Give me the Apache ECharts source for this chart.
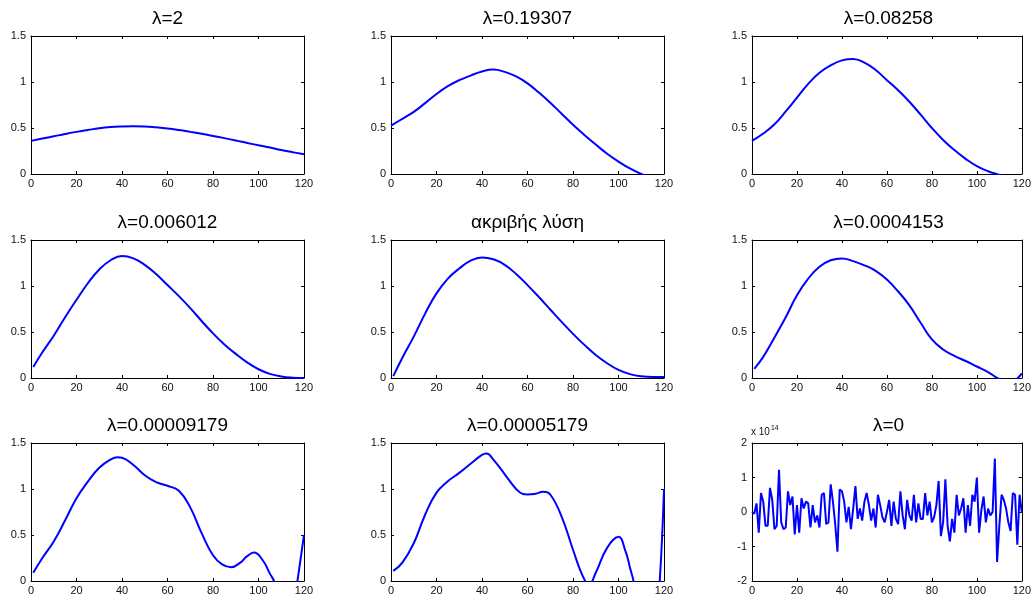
<!DOCTYPE html>
<html>
<head>
<meta charset="utf-8">
<script src="https://cdn.jsdelivr.net/npm/echarts@6/dist/echarts.min.js"></script>
<style>
html,body{margin:0;padding:0;background:#fff;}
#c{width:1034px;height:601px;}
</style>
</head>
<body>
<div id="c"></div>
<script>
// ---- data ----
const titles = ['λ=2','λ=0.19307','λ=0.08258','λ=0.006012','ακριβής λύση','λ=0.0004153','λ=0.00009179','λ=0.00005179','λ=0'];
const xTicks = [0,20,40,60,80,100,120];
const yTicks = [0,0.5,1,1.5];
const yTicksNoise = [-2,-1,0,1,2];

const xA = [0,5,10,15,20,25,30,35,40,45,50,55,60,65,70,75,80,85,90,95,100,105,110,115,120];
const xB = [1,5,10,15,20,25,30,35,40,45,50,55,60,65,70,75,80,85,90,95,100,105,110,115,120];
const xG = [1,5,10,15,20,25,30,35,38,40,45,50,55,60,65,70,75,80,84,88,92,95,98,102,105,107,110,115,117,120];
const xH = [1,5,10,15,20,25,30,35,40,42,45,50,55,58,60,63,67,70,75,80,84,87,90,95,100,103,105,107,110,115,118,120];

const yLam2      = [0.36,0.385,0.41,0.435,0.458,0.478,0.497,0.51,0.516,0.518,0.516,0.507,0.495,0.478,0.458,0.437,0.414,0.39,0.365,0.338,0.312,0.287,0.26,0.237,0.215];
const yLam19307  = [0.525,0.6,0.675,0.77,0.87,0.955,1.02,1.07,1.115,1.135,1.11,1.06,0.985,0.885,0.775,0.655,0.535,0.425,0.32,0.22,0.135,0.06,0.0,-0.05,-0.1];
const yLam08258  = [0.36,0.44,0.54,0.68,0.83,0.98,1.1,1.18,1.235,1.25,1.21,1.13,1.02,0.91,0.785,0.645,0.5,0.37,0.26,0.165,0.085,0.03,-0.01,-0.05,-0.1];
const yLam006012 = [0.12,0.28,0.46,0.66,0.85,1.03,1.18,1.28,1.325,1.3,1.23,1.13,1.01,0.89,0.76,0.62,0.485,0.365,0.262,0.17,0.095,0.045,0.017,0.004,0.0];
const yExact     = [0.02,0.22,0.45,0.7,0.92,1.08,1.19,1.275,1.31,1.29,1.23,1.13,1.01,0.88,0.745,0.61,0.48,0.36,0.25,0.16,0.088,0.042,0.018,0.01,0.01];
const yLam0004153= [0.1,0.23,0.44,0.66,0.9,1.08,1.21,1.28,1.3,1.27,1.225,1.165,1.07,0.94,0.79,0.6,0.42,0.31,0.24,0.185,0.125,0.065,-0.01,-0.04,0.05];
const yLam9179   = [0.09,0.25,0.43,0.66,0.9,1.08,1.23,1.32,1.345,1.34,1.26,1.15,1.075,1.035,0.98,0.8,0.52,0.28,0.18,0.15,0.2,0.27,0.31,0.22,0.08,-0.01,-0.25,-0.35,-0.02,0.5];
const yLam5179   = [0.11,0.2,0.41,0.72,0.96,1.085,1.175,1.275,1.37,1.385,1.32,1.16,1.0,0.945,0.94,0.945,0.97,0.94,0.7,0.34,0.07,-0.04,0.09,0.36,0.48,0.33,0.15,-0.05,-0.6,-0.9,-0.05,1.0];
// λ=0, values in units of 10^14, one per x = 0..120
const yLam0 = [0.0,-0.05,0.25,-0.6,0.55,0.3,-0.4,-0.4,0.7,0.35,-0.5,-0.4,1.22,-0.3,-0.5,-0.45,0.6,0.2,0.45,-0.65,
  0.2,-0.6,0.4,0.1,0.3,0.25,-0.45,0.2,-0.3,-0.1,-0.45,0.5,0.55,-0.35,-0.3,0.8,0.3,-0.35,-1.15,0.65,
  0.6,0.3,-0.3,0.15,-0.5,0.1,0.75,-0.2,0.1,-0.25,0.3,0.55,0.2,-0.25,0.1,-0.45,0.5,0.2,-0.15,-0.3,
  0.0,0.35,-0.4,0.3,-0.2,-0.35,0.6,-0.1,-0.5,0.35,-0.1,-0.25,0.5,-0.3,0.25,-0.2,-0.2,0.55,-0.1,0.3,
  -0.3,-0.15,0.2,0.9,-0.7,-0.3,0.95,-0.4,-0.85,-0.2,-0.6,0.5,-0.1,0.1,0.4,-0.6,0.2,-0.4,0.5,0.3,
  1.0,-0.6,0.05,0.45,-0.3,0.1,-0.1,0.0,1.55,-1.45,-0.4,0.5,0.35,0.1,-0.3,-0.55,0.55,0.5,-0.95,0.5,0.0];

const panels = [
  {x:xA, y:yLam2}, {x:xA, y:yLam19307}, {x:xA, y:yLam08258},
  {x:xB, y:yLam006012}, {x:xB, y:yExact}, {x:xB, y:yLam0004153},
  {x:xG, y:yLam9179}, {x:xH, y:yLam5179}, {x:null, y:yLam0}
];

// ---- layout ----
const FONT = "'Liberation Sans', Arial, Helvetica, sans-serif";
const lefts = [31, 391, 752];
const tops = [36, 240, 443];
const W = 273, H = 138;

const grid = [], xAxis = [], yAxis = [], series = [], graphic = [];
panels.forEach((p, i) => {
  const r = Math.floor(i / 3), c = i % 3;
  grid.push({left: lefts[c], top: tops[r], width: W, height: H, show: false, containLabel: false});
  const noise = (i === 8);
  const common = {
    gridIndex: i, type: 'value', splitLine: {show: false},
    axisLine: {show: true, onZero: false, lineStyle: {color: '#000', width: 1}},
    axisTick: {show: true, inside: true, length: 3, lineStyle: {color: '#000', width: 1}}
  };
  const lbl = {show: true, fontSize: 11, color: '#111', fontFamily: FONT, margin: 5, showMinLabel: true, showMaxLabel: true};
  xAxis.push(Object.assign({}, common, {
    position: 'bottom', min: 0, max: 120, interval: 20, axisLabel: Object.assign({}, lbl, {margin: 4})
  }));
  xAxis.push(Object.assign({}, common, {
    position: 'top', min: 0, max: 120, interval: 20, axisLabel: {show: false}
  }));
  const ymin = noise ? -2 : 0, ymax = noise ? 2 : 1.5, yint = noise ? 1 : 0.5;
  yAxis.push(Object.assign({}, common, {
    position: 'left', min: ymin, max: ymax, interval: yint, axisLabel: lbl
  }));
  yAxis.push(Object.assign({}, common, {
    position: 'right', min: ymin, max: ymax, interval: yint, axisLabel: {show: false}
  }));
  const data = p.x ? p.y.map((v, k) => [p.x[k], v]) : p.y.map((v, k) => [k, v]);
  series.push({
    type: 'line', xAxisIndex: 2 * i, yAxisIndex: 2 * i, data: data,
    showSymbol: false, symbol: 'none', clip: true, smooth: noise ? false : 0.45,
    lineStyle: {color: '#0000ff', width: 2}, silent: true, animation: false
  });
  graphic.push({
    type: 'text', x: lefts[c] + W / 2, y: tops[r] - 17,
    style: {text: titles[i], fontSize: 19, fontFamily: FONT, fill: '#000', textAlign: 'center', textVerticalAlign: 'middle'}
  });
});
graphic.push({
  type: 'text', x: lefts[2] - 1, y: tops[2] - 4,
  style: {
    text: 'x 10{s|14}', fontSize: 10, fontFamily: FONT, fill: '#111', textAlign: 'left', textVerticalAlign: 'bottom',
    rich: {s: {fontSize: 7, fontFamily: FONT, fill: '#111', padding: [0, 0, 7, 1]}}
  }
});

const chart = echarts.init(document.getElementById('c'), null, {renderer: 'canvas'});
chart.setOption({
  animation: false,
  backgroundColor: '#fff',
  grid: grid, xAxis: xAxis, yAxis: yAxis, series: series, graphic: graphic
});
</script>
</body>
</html>
